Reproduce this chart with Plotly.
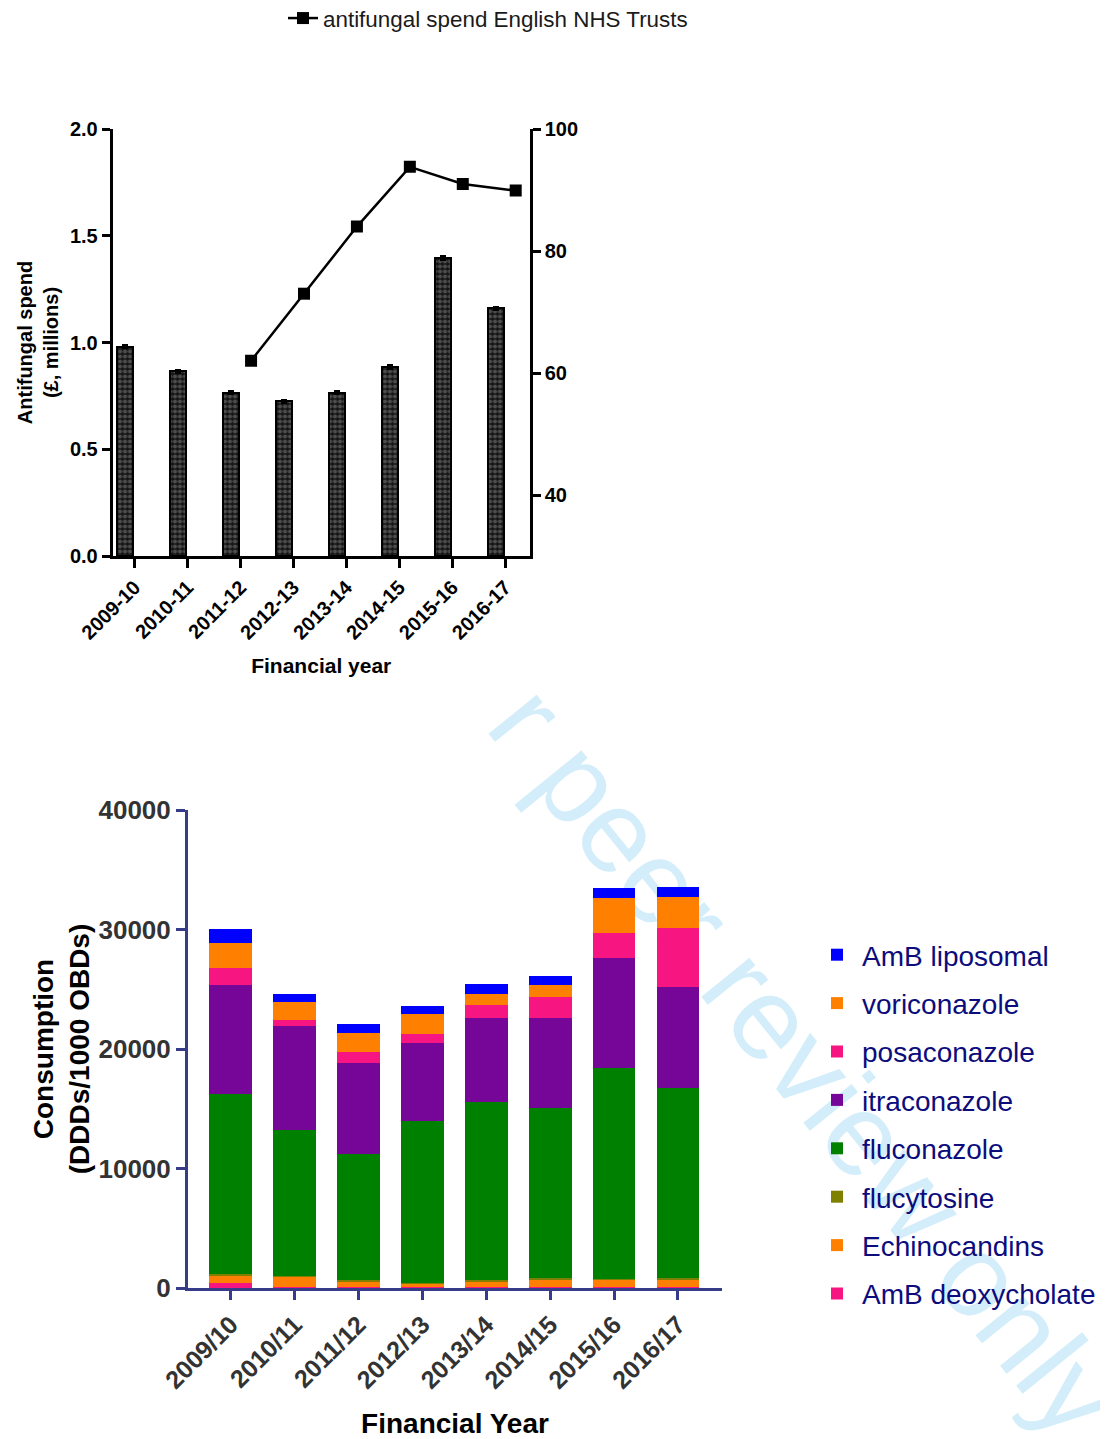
import plotly.graph_objects as go

# ---------------- data: top chart ----------------
years_top = ["2009-10", "2010-11", "2011-12", "2012-13", "2013-14", "2014-15", "2015-16", "2016-17"]
spend_millions = [0.98, 0.865, 0.765, 0.725, 0.765, 0.885, 1.395, 1.16]
spend_err = [0.008, 0.008, 0.008, 0.008, 0.008, 0.008, 0.008, 0.008]
line_years = ["2011-12", "2012-13", "2013-14", "2014-15", "2015-16", "2016-17"]
line_values = [62.0, 73.0, 84.0, 93.8, 91.0, 89.9]
line_name = "antifungal spend English NHS Trusts"

# ---------------- data: bottom chart ----------------
years_bot = ["2009/10", "2010/11", "2011/12", "2012/13", "2013/14", "2014/15", "2015/16", "2016/17"]
amb_deoxycholate = [380, 90, 80, 60, 60, 60, 60, 60]
echinocandins = [680, 885, 505, 340, 440, 665, 610, 670]
flucytosine = [150, 60, 50, 60, 170, 85, 55, 80]
fluconazole = [15000, 12215, 10605, 13485, 14865, 14280, 17705, 15915]
itraconazole = [9180, 8675, 7615, 6555, 7055, 7505, 9195, 8465]
posaconazole = [1395, 500, 865, 725, 1090, 1785, 2105, 4900]
voriconazole = [2090, 1480, 1620, 1675, 920, 950, 2875, 2590]
amb_liposomal = [1130, 700, 780, 670, 835, 755, 890, 890]

series_names = ["AmB deoxycholate", "Echinocandins", "flucytosine", "fluconazole",
                "itraconazole", "posaconazole", "voriconazole", "AmB liposomal"]
series_values = [amb_deoxycholate, echinocandins, flucytosine, fluconazole,
                 itraconazole, posaconazole, voriconazole, amb_liposomal]
series_colors = ["#f71581", "#ff8000", "#808000", "#008000",
                 "#760697", "#f71581", "#ff8000", "#0000ff"]

watermark_text = "r peer review only"

FONT = "Liberation Sans, Arial, Helvetica, sans-serif"
NAVY = "#363c88"

fig = go.Figure()

# top chart bars (numeric positions = category index)
idx = list(range(len(years_top)))
fig.add_trace(go.Bar(
    x=idx, y=spend_millions, width=0.3,
    marker=dict(color="#141414", line=dict(color="black", width=2),
                pattern=dict(shape=".", fgcolor="#858585", bgcolor="#141414", size=5, solidity=0.55)),
    error_y=dict(type="data", array=spend_err, color="black", thickness=2, width=3),
    showlegend=False, xaxis="x", yaxis="y",
))

# top chart line (own overlay x axis, right y axis)
fig.add_trace(go.Scatter(
    x=line_years, y=line_values, mode="lines+markers", name=line_name,
    line=dict(color="black", width=2.5),
    marker=dict(symbol="square", size=12, color="black"),
    xaxis="x3", yaxis="y2", legend="legend",
))

# bottom stacked bars
n = len(series_names)
for i, (name, vals, col) in enumerate(zip(series_names, series_values, series_colors)):
    fig.add_trace(go.Bar(
        x=years_bot, y=vals, name=name, width=0.67,
        marker=dict(color=col, line=dict(width=0)),
        xaxis="x2", yaxis="y3", legend="legend2", legendgroup=name,
        legendrank=n - i,
    ))

# page offset (body margin) compensation
OFF = 8
W, H = 1100, 1431

def px_x(p):
    return (p - OFF) / W

def px_y(p):
    return 1 - (p - OFF) / H

top_font = dict(family=FONT, size=20, color="black", weight="bold")
bot_tick_font = dict(family=FONT, size=25, color="#333333", weight="bold")

wm_cx, wm_cy = px_x(814), px_y(1054)

fig.update_layout(
    width=W, height=H,
    margin=dict(l=0, r=0, t=0, b=0, autoexpand=False),
    paper_bgcolor="white", plot_bgcolor="rgba(0,0,0,0)",
    barmode="stack",
    font=dict(family=FONT),
    xaxis=dict(
        domain=[px_x(112.5), px_x(530)], anchor="y",
        range=[-0.238, 7.65],
        tickmode="array", tickvals=[i + 0.18 for i in idx], ticktext=years_top,
        tickangle=-45, tickfont=top_font,
        ticks="outside", ticklen=9, tickwidth=2.5, tickcolor="black",
        showline=True, linecolor="black", linewidth=2.5,
        showgrid=False, zeroline=False,
        title=dict(text="Financial year", font=dict(family=FONT, size=21, color="black", weight="bold"), standoff=16),
    ),
    yaxis=dict(
        domain=[px_y(556), px_y(129)], anchor="x",
        range=[0, 2.0], tickvals=[0, 0.5, 1.0, 1.5, 2.0], tickformat=".1f",
        tickfont=top_font,
        ticks="outside", ticklen=8, tickwidth=2.5, tickcolor="black",
        showline=True, linecolor="black", linewidth=2.5,
        showgrid=False, zeroline=False,
        title=dict(text="Antifungal spend<br>(£, millions)", font=dict(family=FONT, size=20, color="black", weight="bold"), standoff=6),
    ),
    yaxis2=dict(
        overlaying="y", side="right", anchor="x",
        range=[30, 100], tickvals=[40, 60, 80, 100],
        tickfont=top_font,
        ticks="outside", ticklen=8, tickwidth=2.5, tickcolor="black",
        showline=True, linecolor="black", linewidth=2.5,
        showgrid=False, zeroline=False,
    ),
    xaxis3=dict(
        overlaying="x", anchor="y2", visible=False,
        type="category", range=[-2.618, 5.27],
    ),
    xaxis2=dict(
        domain=[px_x(188), px_x(722)], anchor="y3",
        type="category", range=[-0.67, 7.69],
        tickangle=-45, tickfont=bot_tick_font,
        ticks="outside", ticklen=9, tickwidth=2.5, tickcolor=NAVY,
        showline=True, linecolor=NAVY, linewidth=3,
        showgrid=False, zeroline=False,
        title=dict(text="Financial Year", font=dict(family=FONT, size=28, color="black", weight="bold"), standoff=24),
    ),
    yaxis3=dict(
        domain=[px_y(1288), px_y(810)], anchor="x2",
        range=[0, 40000], tickvals=[0, 10000, 20000, 30000, 40000],
        tickformat="d",
        tickfont=dict(family=FONT, size=26, color="#333333", weight="bold"),
        ticks="outside", ticklen=9, tickwidth=2.5, tickcolor=NAVY,
        showline=True, linecolor=NAVY, linewidth=3,
        showgrid=False, zeroline=False,
        title=dict(text="Consumption<br>(DDDs/1000 OBDs)", font=dict(family=FONT, size=28, color="black", weight="bold"), standoff=1),
    ),
    legend=dict(
        x=px_x(283), y=px_y(-3), xanchor="left", yanchor="top",
        font=dict(family=FONT, size=22.4, color="#1a1a1a"),
        bgcolor="rgba(0,0,0,0)",
    ),
    legend2=dict(
        x=px_x(812), y=px_y(930), xanchor="left", yanchor="top",
        font=dict(family=FONT, size=28, color="#0c0c7c"),
        traceorder="grouped", tracegroupgap=9, itemwidth=40,
        bgcolor="rgba(0,0,0,0)",
    ),
    shapes=[dict(
        type="rect", xref="paper", yref="paper", layer="below",
        x0=wm_cx - 0.0005, x1=wm_cx + 0.0005, y0=wm_cy - 0.0005, y1=wm_cy + 0.0005,
        line=dict(width=0), fillcolor="rgba(0,0,0,0)",
        label=dict(text=watermark_text, textposition="middle center", textangle=51,
                   font=dict(family=FONT, size=117, color="#d3eefa"), padding=0),
    )],
)

fig.write_html("out.html")
